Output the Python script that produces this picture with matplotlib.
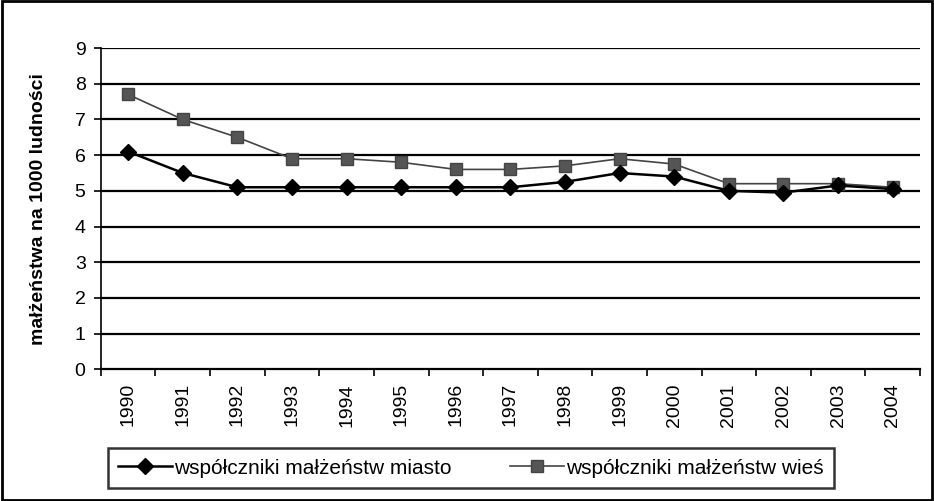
import matplotlib
matplotlib.use("Agg")
import matplotlib.pyplot as plt
import numpy as np

plt.rcParams['font.family'] = ['Liberation Sans', 'DejaVu Sans']

years = ["1990", "1991", "1992", "1993", "1994", "1995", "1996", "1997",
         "1998", "1999", "2000", "2001", "2002", "2003", "2004"]
miasto = [6.1, 5.5, 5.1, 5.1, 5.1, 5.1, 5.1, 5.1, 5.25, 5.5, 5.4, 5.0, 4.95, 5.15, 5.05]
wies = [7.7, 7.0, 6.5, 5.9, 5.9, 5.8, 5.6, 5.6, 5.7, 5.9, 5.75, 5.2, 5.2, 5.2, 5.1]
yticks = list(range(0, 10))

fig = plt.figure(figsize=(9.34, 5.01), dpi=100)
ax = fig.add_axes([0.108, 0.263, 0.877, 0.641])

x = np.arange(len(years))
for t in yticks[1:]:
    ax.axhline(t, color='k', linewidth=1.6, zorder=1)

ax.plot(x, miasto, color='k', linewidth=1.8, marker='D', markersize=8,
        label="współczniki małżeństw miasto", zorder=3)
ax.plot(x, wies, color='#444444', linewidth=1.2, marker='s', markersize=9,
        markerfacecolor='#555555', markeredgecolor='#444444',
        label="współczniki małżeństw wieś", zorder=2)

ax.set_xlim(-0.5, len(years) - 0.5)
ax.set_ylim(0, 9)
ax.set_yticks(yticks)
ax.set_xticks(x)
ax.set_xticklabels(years, rotation=90, fontsize=14)
ax.set_xticks(np.arange(-0.5, len(years), 1), minor=True)
ax.tick_params(axis='x', which='major', length=0, pad=10)
ax.tick_params(axis='x', which='minor', length=5, width=1.2, color='k')
ax.tick_params(axis='y', labelsize=14, length=5, width=1.2, pad=6)
ax.spines['top'].set_visible(False)
ax.spines['right'].set_visible(False)
ax.spines['left'].set_linewidth(1.2)
ax.spines['bottom'].set_linewidth(1.6)
ax.set_ylabel("małżeństwa na 1000 ludności", fontsize=14, fontweight='bold', labelpad=20)

leg = fig.legend(loc='center', bbox_to_anchor=(471 / 934, 33 / 501),
                 ncol=2, fontsize=15, frameon=True, fancybox=False,
                 edgecolor='k', handlelength=2.6, handletextpad=0.1, borderpad=0.5,
                 columnspacing=2.8, borderaxespad=0)
leg.get_frame().set_linewidth(1.8)

fig.patches.append(plt.Rectangle((0.002, 0.002), 0.996, 0.996, transform=fig.transFigure,
                                 fill=False, edgecolor='k', linewidth=2))

fig.savefig("out.png", dpi=100)
